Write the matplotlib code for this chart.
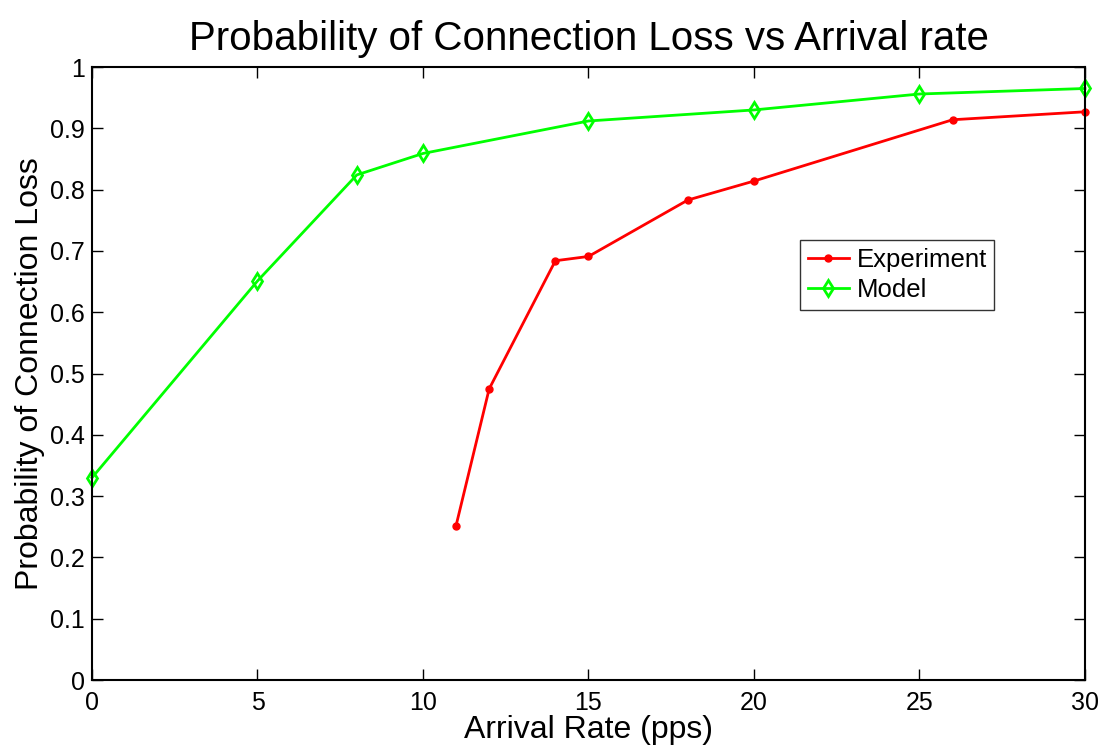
import matplotlib
matplotlib.use("Agg")
import matplotlib.pyplot as plt

plt.rcParams['font.family'] = ['Liberation Sans', 'DejaVu Sans']

exp_x = [11, 12, 14, 15, 18, 20, 26, 30]
exp_y = [0.252, 0.475, 0.684, 0.691, 0.783, 0.814, 0.914, 0.927]
mod_x = [0, 5, 8, 10, 15, 20, 25, 30]
mod_y = [0.330, 0.651, 0.824, 0.859, 0.912, 0.930, 0.956, 0.965]
xticks = [0, 5, 10, 15, 20, 25, 30]
yticks = [0, 0.1, 0.2, 0.3, 0.4, 0.5, 0.6, 0.7, 0.8, 0.9, 1]
ytick_labels = ['0', '0.1', '0.2', '0.3', '0.4', '0.5', '0.6', '0.7', '0.8', '0.9', '1']

fig = plt.figure(figsize=(11.19, 7.49), dpi=100)
ax = fig.add_axes([0.0822, 0.0921, 0.8874, 0.8184])

ax.plot(exp_x, exp_y, color='#ff0000', lw=2, marker='o', ms=5, label='Experiment', clip_on=False)
ax.plot(mod_x, mod_y, color='#00ff00', lw=2, marker='d', ms=8, mfc='none', mew=2, label='Model', clip_on=False)

ax.set_xlim(0, 30)
ax.set_ylim(0, 1)
ax.set_xticks(xticks)
ax.set_yticks(yticks)
ax.set_yticklabels(ytick_labels)
ax.tick_params(direction='in', top=True, right=True, length=8, width=1, labelsize=18)
ax.tick_params(axis='x', pad=8)
ax.tick_params(axis='y', pad=5)
for s in ax.spines.values():
    s.set_linewidth(1.5)

ax.set_title('Probability of Connection Loss vs Arrival rate', fontsize=29, pad=12)
ax.set_xlabel('Arrival Rate (pps)', fontsize=23, labelpad=0)
ax.set_ylabel('Probability of Connection Loss', fontsize=23, labelpad=4)

leg = ax.legend(loc='upper left', bbox_to_anchor=(0.713, 0.718), fontsize=18.5,
                frameon=True, fancybox=False, edgecolor='black', handlelength=1.6,
                borderpad=0.3, labelspacing=0.25, handletextpad=0.3, borderaxespad=0)
leg.get_frame().set_linewidth(1)

fig.savefig('out.png', dpi=100)
